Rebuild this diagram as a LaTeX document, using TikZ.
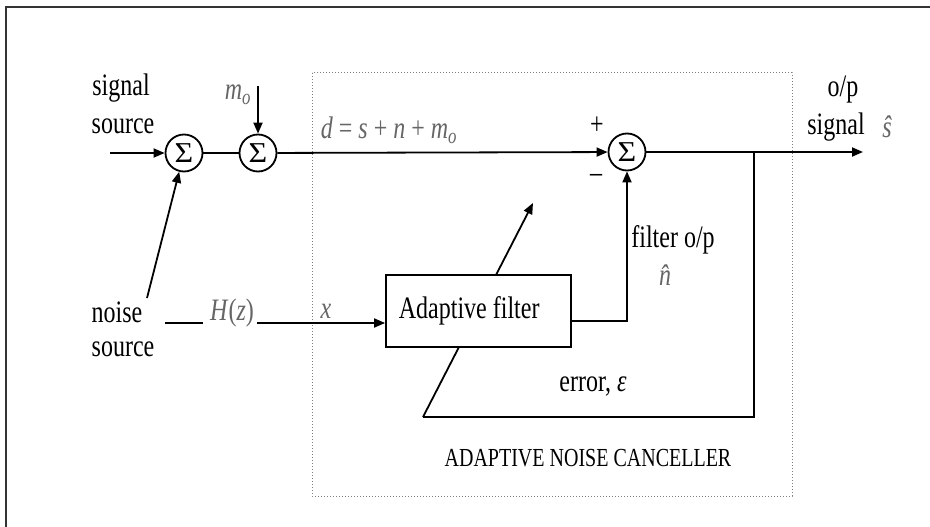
\documentclass[tikz,border=0pt]{standalone}
\usepackage{fontspec}
\setmainfont{Liberation Serif}
\usetikzlibrary{arrows.meta}
\newcommand{\vstr}[1]{\scalebox{1}[1.3]{#1}}
\begin{document}
\begin{tikzpicture}[x=1pt,y=-1pt,line width=1.8pt,
  sumnode/.style={circle,draw,minimum size=37pt,inner sep=0pt,font=\fontsize{32}{32}\selectfont},
  lbl/.style={font=\fontsize{24}{26}\selectfont,inner sep=0pt},
  smalllbl/.style={font=\fontsize{20}{22}\selectfont,inner sep=0pt},
  mathlbl/.style={font=\fontsize{24}{26}\selectfont\itshape,text=black!60,inner sep=0pt},
  arr/.style={-{Triangle[length=11pt,width=9pt]}},
  filterbox/.style={draw,fill=white,minimum width=185pt,minimum height=72pt,inner sep=0pt},
  dotbox/.style={dotted,draw=black!50,line width=1pt},
  framestyle/.style={draw=black!80,line width=2pt}
]
\useasboundingbox (0,0) rectangle (930,527);
% outer frame (top and left edges)
\coordinate (fbl) at (6,527);
\coordinate (ftl) at (6,7);
\coordinate (ftr) at (930,7);
\draw[framestyle] (fbl) -- (ftl) -- (ftr);
% dotted canceller box
\coordinate (dba) at (312,73);
\coordinate (dbb) at (792,496);
\draw[dotbox] (dba) rectangle (dbb);

% feedback path (drawn before filter box so the box covers it)
\coordinate (tap) at (754,153);
\coordinate (fb1) at (754,417);
\coordinate (fb2) at (423,417);
\coordinate (adtip) at (533,203);
\draw (tap) -- (fb1) -- (fb2);
\draw[arr] (fb2) -- (adtip);

% nodes
\node[sumnode] (s1) at (184,153) {\scalebox{1}[0.9]{Σ}};
\node[sumnode] (s2) at (258,153) {\scalebox{1}[0.9]{Σ}};
\node[sumnode] (s3) at (627,152) {\scalebox{1}[0.9]{Σ}};
\node[filterbox] (af) at (478.5,311) {};
\node[lbl,anchor=west] (aft) at (398,311) {\vstr{Adaptive filter}};

% labels
\node[lbl] (sig1) at (121,88) {\vstr{signal}};
\node[lbl] (sig2) at (123,126) {\vstr{source}};
\node[lbl] (nz1) at (117,312) {\vstr{noise}};
\node[lbl] (nz2) at (123,349) {\vstr{source}};
\node[mathlbl] (mo) at (238,95) {\vstr{m\textsubscript{o}}};
\node[mathlbl] (hz) at (232,313) {\vstr{H\textup{(}z\textup{)}}};
\node[mathlbl] (xl) at (326,311) {\vstr{x}};
\node[mathlbl,anchor=west] (dl) at (320,130) {\vstr{d \textup{=} s \textup{+} n \textup{+} m\textsubscript{o}}};
\node[lbl] (plus) at (597,126) {\vstr{+}};
\node[lbl] (minus) at (596,178) {\vstr{–}};
\node[lbl] (op1) at (843,90) {\vstr{o/p}};
\node[lbl] (op2) at (836,127) {\vstr{signal}};
\node[mathlbl] (shat) at (887,127) {\vstr{ŝ}};
\node[lbl] (fop) at (673,240) {\vstr{filter o/p}};
\node[mathlbl] (nhat) at (665,275) {\vstr{n̂}};
\node[lbl] (err) at (593,387) {\vstr{error, \textit{ε}}};
\node[smalllbl] (anc) at (588,458) {\vstr{ADAPTIVE NOISE CANCELLER}};

% connectors
\coordinate (in) at (110,153);
\draw[arr] (in) -- (s1);
\draw (s1) -- (s2);
\coordinate (mtop) at (258,86);
\draw[arr] (mtop) -- (s2);
\coordinate (nstart) at (147,298);
\draw[arr] (nstart) -- (s1);
\coordinate (h0) at (165,323);
\coordinate (h1) at (203,323);
\draw (h0) -- (h1);
\coordinate (h2) at (257,323);
\draw[arr] (h2) -- (af.west |- h2);
\draw[arr] (s2) -- (s3);
\coordinate (out) at (863,152);
\draw[arr] (s3) -- (out);
\coordinate (fo) at (627,321);
\draw[arr] (af.east |- fo) -- (fo) -- (s3);
\end{tikzpicture}
\end{document}
